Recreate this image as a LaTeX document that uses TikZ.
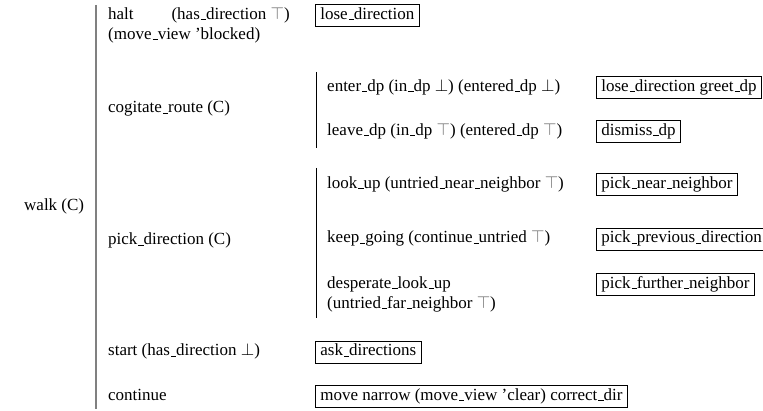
\documentclass[tikz,border=0pt]{standalone}
\usepackage{fontspec}
\setmainfont{Liberation Serif}
\newfontfamily\tnr{Liberation Serif}
\newcommand{\us}{\leavevmode\kern.06em\vbox{\hrule width.3em}}
\newcommand{\tp}{\textcolor{black!60}{$\top$}}
\newcommand{\bt}{$\bot$}
\begin{document}
\begin{tikzpicture}[x=1pt,y=-1pt,
  every node/.style={font=\tnr\fontsize{17}{20}\selectfont},
  txt/.style={anchor=base west, inner sep=0pt},
  txtr/.style={anchor=base east, inner sep=0pt},
  act/.style={draw, line width=0.8pt, anchor=base west, inner xsep=5pt, inner ysep=3pt, text height=12pt, text depth=4pt},
  mainbar/.style={draw=black!50, line width=2.2pt},
  subbar/.style={draw=black, line width=0.9pt}]
\useasboundingbox (0,0) rectangle (763,411);
% main bar
\coordinate (b1t) at (96,5);
\coordinate (b1b) at (96,409);
\draw[mainbar] (b1t) -- (b1b);
\node[txt] (walk) at (24,211) {walk (C)};
% halt
\node[txt] (halt) at (108,19.5) {halt};
\node[txtr] (halt2) at (290,19.5) {(has\us direction \tp)};
\node[txt] (halt3) at (108,39.5) {(move\us view ’blocked)};
\node[act] (a1) at (315,19.5) {lose\us direction};
% cogitate
\node[txt] (cog) at (108,113) {cogitate\us route (C)};
\coordinate (b2t) at (316,72);
\coordinate (b2b) at (316,148);
\draw[subbar] (b2t) -- (b2b);
\node[txt] (enter) at (327,91.5) {enter\us dp (in\us dp \bt) (entered\us dp \bt)};
\node[act] (a2) at (596,91.5) {lose\us direction greet\us dp};
\node[txt] (leave) at (327,135.5) {leave\us dp (in\us dp \tp) (entered\us dp \tp)};
\node[act] (a3) at (596,135.5) {dismiss\us dp};
% pick direction
\node[txt] (pick) at (108,245) {pick\us direction (C)};
\coordinate (b3t) at (316,168);
\coordinate (b3b) at (316,318);
\draw[subbar] (b3t) -- (b3b);
\node[txt] (look) at (327,188.5) {look\us up (untried\us near\us neighbor \tp)};
\node[act] (a4) at (596,188.5) {pick\us near\us neighbor};
\node[txt] (keep) at (327,243) {keep\us going (continue\us untried \tp)};
\node[act] (a5) at (596,243) {pick\us previous\us direction};
\node[txt] (desp) at (327,288.5) {desperate\us look\us up};
\node[txt] (desp2) at (327,308.5) {(untried\us far\us neighbor \tp)};
\node[act] (a6) at (596,288.5) {pick\us further\us neighbor};
% start
\node[txt] (start) at (108,356) {start (has\us direction \bt)};
\node[act] (a7) at (315,356) {ask\us directions};
% continue
\node[txt] (cont) at (108,400) {continue};
\node[act] (a8) at (315,400) {move narrow (move\us view ’clear) correct\us dir};
\end{tikzpicture}
\end{document}
